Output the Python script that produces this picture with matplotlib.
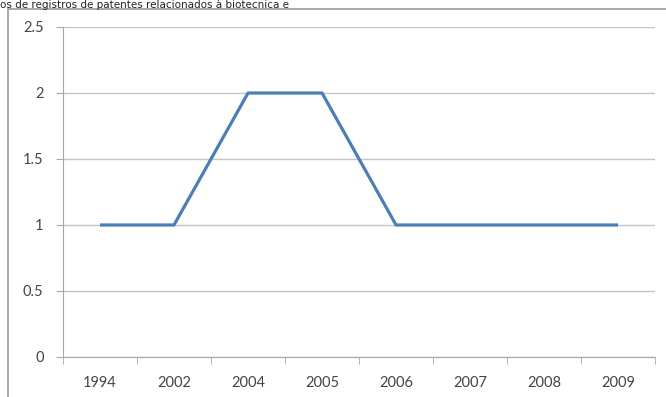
import matplotlib
matplotlib.use("Agg")
import matplotlib.pyplot as plt
from matplotlib.patches import Rectangle
import numpy as np

# patent registrations per year
years = ["1994", "2002", "2004", "2005", "2006", "2007", "2008", "2009"]
counts = [1, 1, 2, 2, 1, 1, 1, 1]
yticks = [0, 0.5, 1, 1.5, 2, 2.5]

plt.rcParams['font.family'] = ['Lato', 'DejaVu Sans']

fig = plt.figure(figsize=(6.66, 3.97), dpi=100)
ax = fig.add_axes([0.0946, 0.1008, 0.889, 0.8312])

# caption line above the chart
fig.text(0.0, 1.0, "os de registros de patentes relacionados à biotecnica e",
         ha='left', va='top', fontsize=7.5, family='DejaVu Sans',
         color='#222222')

# chart border
fig.patches.append(Rectangle((0.012, -0.05), 1.1, 1.027, transform=fig.transFigure,
                             fill=False, edgecolor='#9a9a9a', linewidth=1.2))

x = np.arange(len(years))
ax.plot(x, counts, color='#4a7ebb', linewidth=2.3, solid_capstyle='butt')

ax.set_xlim(-0.5, len(years) - 0.5)
ax.set_ylim(0, 2.5)
ax.set_yticks(yticks)
ax.set_yticklabels(["0", "0.5", "1", "1.5", "2", "2.5"])
ax.set_xticks(x)
ax.set_xticklabels(years)
ax.set_xticks(np.arange(-0.5, len(years)), minor=True)

ax.grid(axis='y', color='#c4c4c4', linewidth=1.0)
ax.set_axisbelow(True)
for side in ['top', 'right']:
    ax.spines[side].set_visible(False)
ax.spines['left'].set_color('#a8a8a8')
ax.spines['bottom'].set_color('#a8a8a8')

ax.tick_params(axis='x', which='major', length=0, pad=14, labelsize=10.5, colors='#444444')
ax.tick_params(axis='x', which='minor', length=5, color='#a8a8a8', direction='out')
ax.tick_params(axis='y', length=5, color='#a8a8a8', pad=9, labelsize=10.5, labelcolor='#444444')

fig.savefig("out.png", dpi=100)
